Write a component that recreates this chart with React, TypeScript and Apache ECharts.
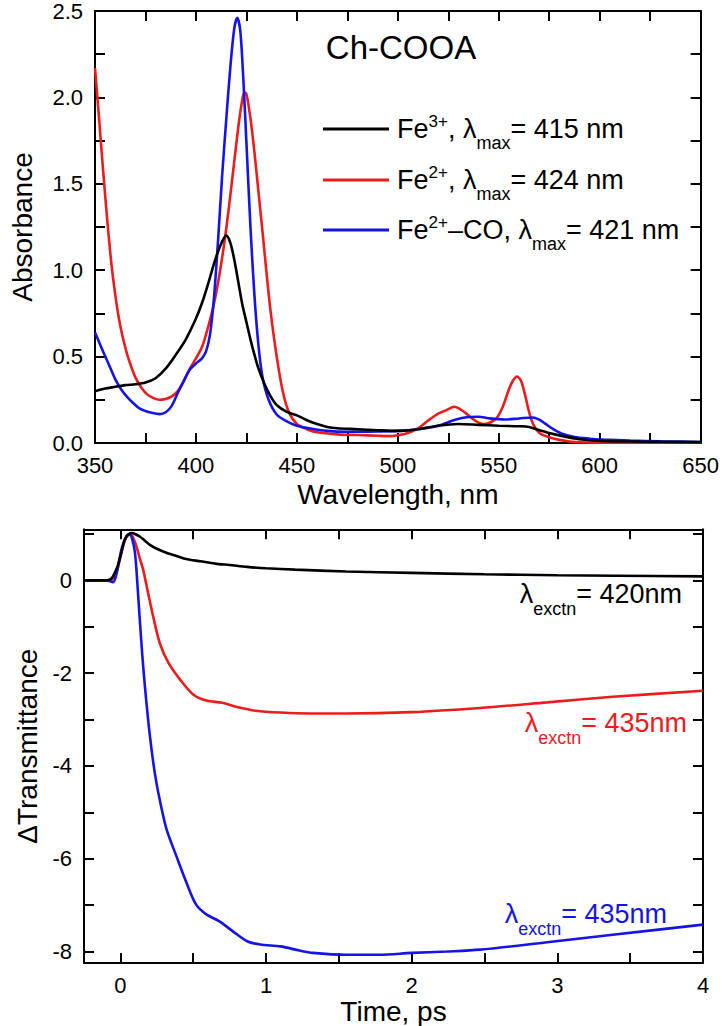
import React, { useEffect, useRef } from "react";
import * as echarts from "echarts";

const FONT = "'Liberation Sans', Arial, Helvetica, sans-serif";
const RED = "#ec1c1c";
const BLUE = "#1414e6";

// ---------- Top panel: absorbance spectra ----------
const fe3Wavelength = [350, 355, 360, 365, 370, 375, 380, 385, 390, 395, 400, 403, 406, 409, 412, 415, 417, 419, 421, 423, 425, 427, 429, 431, 434, 437, 440, 445, 450, 455, 460, 465, 470, 480, 490, 500, 510, 520, 530, 540, 550, 560, 565, 570, 575, 580, 590, 600, 620, 650];
const fe3Absorbance = [0.30, 0.315, 0.325, 0.335, 0.34, 0.35, 0.375, 0.43, 0.51, 0.6, 0.72, 0.81, 0.92, 1.04, 1.14, 1.2, 1.16, 1.06, 0.93, 0.8, 0.7, 0.6, 0.51, 0.43, 0.34, 0.27, 0.22, 0.18, 0.16, 0.132, 0.11, 0.093, 0.085, 0.08, 0.074, 0.07, 0.08, 0.1, 0.11, 0.105, 0.1, 0.097, 0.093, 0.075, 0.058, 0.044, 0.022, 0.012, 0.008, 0.005];

const fe2Wavelength = [350, 352, 354, 356, 358, 360, 362, 364, 366, 368, 370, 373, 376, 379, 382, 385, 388, 391, 394, 397, 400, 403, 406, 409, 412, 415, 418, 421, 423, 424, 425, 427, 429, 431, 433, 435, 437, 440, 443, 446, 450, 455, 460, 470, 480, 490, 495, 500, 505, 510, 515, 520, 524, 528, 531, 534, 537, 540, 543, 546, 549, 552, 555, 557, 559, 561, 563, 565, 567, 570, 575, 580, 585, 590, 600, 650];
const fe2Absorbance = [2.17, 1.88, 1.58, 1.3, 1.05, 0.86, 0.71, 0.6, 0.51, 0.44, 0.38, 0.32, 0.28, 0.26, 0.25, 0.255, 0.27, 0.3, 0.36, 0.43, 0.49, 0.555, 0.67, 0.81, 1.0, 1.24, 1.53, 1.83, 1.99, 2.03, 2.02, 1.88, 1.68, 1.45, 1.22, 0.98, 0.76, 0.5, 0.3, 0.18, 0.11, 0.08, 0.062, 0.05, 0.046, 0.042, 0.04, 0.045, 0.058, 0.085, 0.13, 0.17, 0.19, 0.21, 0.195, 0.17, 0.14, 0.118, 0.11, 0.12, 0.145, 0.21, 0.31, 0.36, 0.385, 0.36, 0.28, 0.18, 0.11, 0.06, 0.033, 0.018, 0.009, 0.004, 0.002, 0.002];

const fe2coWavelength = [350, 352, 354, 357, 360, 363, 366, 369, 372, 375, 378, 382, 385, 388, 391, 394, 397, 400, 403, 405, 407, 409, 411, 413, 415, 417, 419, 420.5, 422, 423.5, 425, 427, 429, 431, 433, 436, 440, 445, 450, 456, 465, 475, 490, 500, 510, 520, 528, 535, 540, 545, 553, 560, 567, 570, 573, 577, 581, 587, 595, 602, 615, 630, 650];
const fe2coAbsorbance = [0.64, 0.585, 0.53, 0.45, 0.37, 0.31, 0.265, 0.23, 0.2, 0.185, 0.175, 0.167, 0.178, 0.215, 0.29, 0.36, 0.425, 0.46, 0.49, 0.53, 0.63, 0.85, 1.18, 1.55, 1.87, 2.17, 2.4, 2.46, 2.38, 2.1, 1.74, 1.25, 0.85, 0.56, 0.38, 0.25, 0.165, 0.125, 0.1, 0.085, 0.07, 0.065, 0.067, 0.07, 0.08, 0.1, 0.133, 0.15, 0.152, 0.143, 0.136, 0.142, 0.148, 0.135, 0.112, 0.08, 0.055, 0.036, 0.025, 0.02, 0.014, 0.01, 0.006];

const absXTicks = [350, 375, 400, 425, 450, 475, 500, 525, 550, 575, 600, 625, 650];
const absXLabels = [350, 400, 450, 500, 550, 600, 650];
const absYTicks = [0, 0.25, 0.5, 0.75, 1, 1.25, 1.5, 1.75, 2, 2.25, 2.5];
const absYLabels = [0, 0.5, 1, 1.5, 2, 2.5];

// ---------- Bottom panel: transient transmittance ----------
const time420 = [-0.25, -0.1, -0.07, -0.05, -0.02, 0, 0.03, 0.06, 0.08, 0.1, 0.13, 0.17, 0.2, 0.25, 0.32, 0.4, 0.45, 0.55, 0.65, 0.75, 0.87, 1.0, 1.2, 1.55, 2.0, 2.5, 3.0, 3.4, 4.0];
const dT420 = [0, 0, 0.02, 0.09, 0.3, 0.52, 0.88, 1.0, 1.02, 1.0, 0.95, 0.85, 0.77, 0.68, 0.59, 0.51, 0.46, 0.41, 0.36, 0.33, 0.29, 0.26, 0.23, 0.19, 0.16, 0.13, 0.11, 0.1, 0.086];

const time435red = [-0.25, -0.1, -0.07, -0.05, -0.02, 0, 0.03, 0.06, 0.08, 0.11, 0.135, 0.156, 0.19, 0.225, 0.27, 0.33, 0.41, 0.5, 0.59, 0.7, 0.8, 0.93, 1.1, 1.3, 1.55, 2.0, 2.47, 2.93, 3.38, 4.0];
const dT435red = [0, 0, 0, 0.05, 0.25, 0.5, 0.85, 1.0, 0.97, 0.73, 0.45, 0.23, -0.27, -0.78, -1.35, -1.78, -2.14, -2.46, -2.59, -2.64, -2.73, -2.81, -2.85, -2.87, -2.87, -2.84, -2.75, -2.63, -2.51, -2.38];

const time435blue = [-0.25, -0.1, -0.07, -0.05, -0.03, -0.01, 0.01, 0.04, 0.06, 0.08, 0.1, 0.115, 0.133, 0.15, 0.168, 0.2, 0.236, 0.27, 0.317, 0.385, 0.454, 0.52, 0.59, 0.68, 0.77, 0.87, 0.96, 1.1, 1.23, 1.32, 1.55, 1.78, 2.0, 2.24, 2.47, 2.93, 3.38, 4.0];
const dT435blue = [0, 0, -0.02, -0.04, 0.1, 0.4, 0.7, 0.95, 1.0, 0.9, 0.59, 0.0, -0.85, -1.6, -2.28, -3.29, -4.15, -4.73, -5.37, -5.95, -6.52, -6.99, -7.2, -7.35, -7.56, -7.78, -7.85, -7.89, -7.98, -8.03, -8.07, -8.07, -8.03, -8.0, -7.96, -7.8, -7.64, -7.42];

const timeXTicks = [0, 0.5, 1, 1.5, 2, 2.5, 3, 3.5, 4];
const timeXLabels = [0, 1, 2, 3, 4];
const dTYTicks = [-8, -7, -6, -5, -4, -3, -2, -1, 0, 1];
const dTYLabels = [-8, -6, -4, -2, 0];

const legendRows = [
  { color: "#000000", charge: "3+", ligand: "", lambda: "415", y: 129 },
  { color: RED, charge: "2+", ligand: "", lambda: "424", y: 180 },
  { color: BLUE, charge: "2+", ligand: "\u2013CO", lambda: "421", y: 230 },
];

const exctnLabels = [
  { color: "#000000", nm: "420", right: 682, y: 594 },
  { color: RED, nm: "435", right: 687, y: 723 },
  { color: BLUE, nm: "435", right: 667, y: 914 },
];

const zip = (xs: number[], ys: number[]) => xs.map((x, i) => [x, ys[i]]);

const axisLineStyle = { color: "#000", width: 2 };
const tickStyle = { color: "#000", width: 2 };
const labelStyle = { color: "#000", fontSize: 22, fontFamily: FONT };
const nameStyle = { color: "#000", fontSize: 28, fontFamily: FONT };

function makeAxis(o: any) {
  return {
    type: "value",
    gridIndex: o.grid,
    position: o.position,
    min: o.min,
    max: o.max,
    axisLine: { show: true, onZero: false, lineStyle: axisLineStyle },
    axisTick: { show: true, inside: true, length: 10, lineStyle: tickStyle, customValues: o.ticks },
    axisLabel: o.labels
      ? { show: true, customValues: o.labels, margin: o.margin, formatter: o.formatter, ...labelStyle }
      : { show: false },
    splitLine: { show: false },
    name: o.name,
    nameLocation: "middle",
    nameGap: o.nameGap,
    nameTextStyle: nameStyle,
  };
}

export default function App() {
  const ref = useRef<HTMLDivElement>(null);
  useEffect(() => {
    if (!ref.current) return;
    const chart = echarts.init(ref.current, null, { renderer: "svg" });

    const richLegend = {
      n: { fontSize: 27, fontFamily: FONT, lineHeight: 46, verticalAlign: "middle" },
      sup: { fontSize: 17, fontFamily: FONT, verticalAlign: "top", height: 31 },
      sub: { fontSize: 18, fontFamily: FONT, verticalAlign: "bottom" },
    };
    const richExc = {
      n: { fontSize: 27, fontFamily: FONT, lineHeight: 48, verticalAlign: "middle" },
      sub: { fontSize: 18, fontFamily: FONT, verticalAlign: "bottom" },
    };

    const graphics: any[] = [
      {
        type: "text",
        x: 401,
        y: 47,
        style: { text: "Ch-COOA", fontSize: 33, fontFamily: FONT, fill: "#000", align: "center", verticalAlign: "middle" },
      },
    ];
    legendRows.forEach((r) => {
      graphics.push({
        type: "line",
        shape: { x1: 323, y1: r.y, x2: 389, y2: r.y },
        style: { stroke: r.color, lineWidth: 3 },
      });
      graphics.push({
        type: "text",
        x: 397,
        y: r.y,
        style: {
          text: `{n|Fe}{sup|${r.charge}}{n|${r.ligand}, \u03bb}{sub|max}{n|= ${r.lambda} nm}`,
          rich: richLegend,
          fill: "#000",
          align: "left",
          verticalAlign: "middle",
        },
      });
    });
    exctnLabels.forEach((l) => {
      graphics.push({
        type: "text",
        x: l.right,
        y: l.y,
        style: {
          text: `{n|\u03bb}{sub|exctn}{n|= ${l.nm}nm}`,
          rich: richExc,
          fill: l.color,
          align: "right",
          verticalAlign: "middle",
        },
      });
    });

    const lineSeries = (name: string, x: number, data: number[][], color: string) => ({
      name,
      type: "line",
      xAxisIndex: x,
      yAxisIndex: x,
      data,
      showSymbol: false,
      smooth: 0.3,
      clip: true,
      lineStyle: { color, width: 2.6 },
      itemStyle: { color },
      z: color === "#000000" ? 3 : 2,
    });

    chart.setOption({
      animation: false,
      backgroundColor: "#ffffff",
      grid: [
        { left: 84, top: 9.5, width: 619, height: 433.5 },
        { left: 84, top: 529.3, width: 619, height: 434 },
      ],
      xAxis: [
        makeAxis({ grid: 0, position: "bottom", min: 350, max: 650, ticks: absXTicks, labels: absXLabels, margin: 11, name: "Wavelength, nm", nameGap: 37 }),
        makeAxis({ grid: 0, position: "top", min: 350, max: 650, ticks: absXTicks }),
        makeAxis({ grid: 1, position: "bottom", min: -0.25, max: 4, ticks: timeXTicks, labels: timeXLabels, margin: 11, name: "Time, ps", nameGap: 33 }),
        makeAxis({ grid: 1, position: "top", min: -0.25, max: 4, ticks: timeXTicks }),
      ],
      yAxis: [
        makeAxis({ grid: 0, position: "left", min: 0, max: 2.5, ticks: absYTicks, labels: absYLabels, margin: 12, formatter: (v: number) => v.toFixed(1), name: "Absorbance", nameGap: 59 }),
        makeAxis({ grid: 0, position: "right", min: 0, max: 2.5, ticks: absYTicks }),
        makeAxis({ grid: 1, position: "left", min: -8.25, max: 1.1, ticks: dTYTicks, labels: dTYLabels, margin: 12, name: "\u0394Transmittance", nameGap: 41 }),
        makeAxis({ grid: 1, position: "right", min: -8.25, max: 1.1, ticks: dTYTicks }),
      ],
      series: [
        lineSeries("Fe3+", 0, zip(fe3Wavelength, fe3Absorbance), "#000000"),
        lineSeries("Fe2+", 0, zip(fe2Wavelength, fe2Absorbance), RED),
        lineSeries("Fe2+-CO", 0, zip(fe2coWavelength, fe2coAbsorbance), BLUE),
        lineSeries("420nm", 2, zip(time420, dT420), "#000000"),
        lineSeries("435nm red", 2, zip(time435red, dT435red), RED),
        lineSeries("435nm blue", 2, zip(time435blue, dT435blue), BLUE),
      ],
      graphic: graphics,
    });
    return () => chart.dispose();
  }, []);
  return (
    <div
      ref={ref}
      style={{ position: "absolute", left: 0, top: 0, width: 722, height: 1026, background: "#fff" }}
    />
  );
}
